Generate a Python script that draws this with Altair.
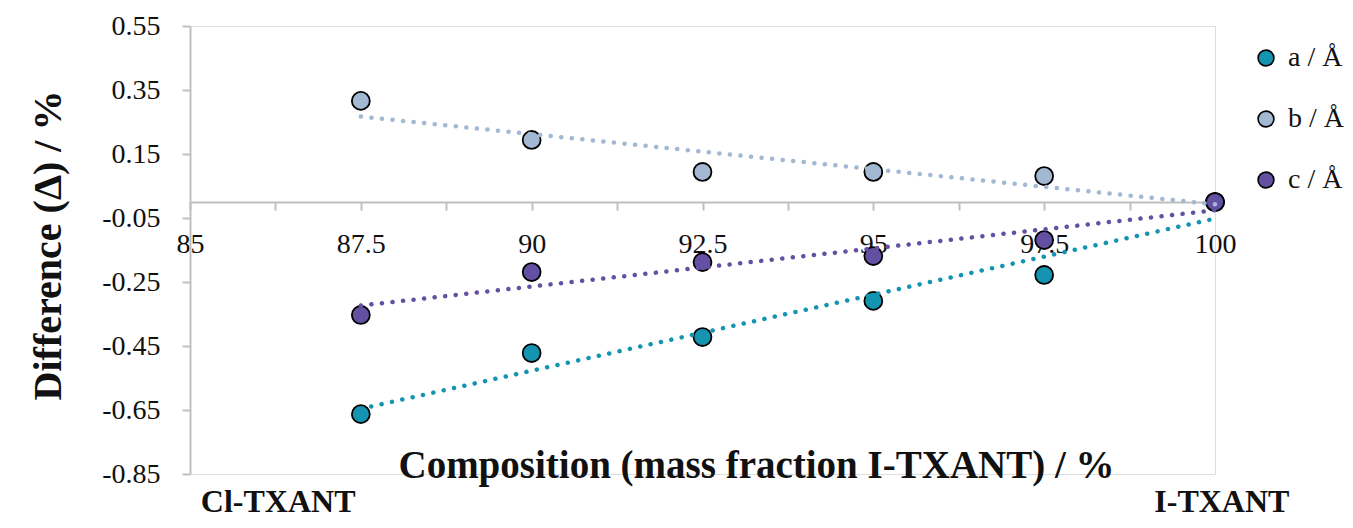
import altair as alt
import pandas as pd

# ---- data ----
composition = [87.5, 90, 92.5, 95, 97.5, 100]
a_vals = [-0.663, -0.472, -0.422, -0.309, -0.228, 0.0]
b_vals = [0.316, 0.194, 0.094, 0.094, 0.081, 0.0]
c_vals = [-0.353, -0.219, -0.188, -0.169, -0.119, 0.0]
series_names = ["a / Å", "b / Å", "c / Å"]
series_colors = ["#1494B0", "#A2B8D3", "#6450A2"]

annot_labels = ["Cl-TXANT", "I-TXANT"]
annot_x = [86.29, 100.1]

x_ticks = [85 + 1.25 * i for i in range(13)]
y_ticks = [round(-0.85 + 0.1 * i, 2) for i in range(15)]

rows = []
for name, vals in zip(series_names, [a_vals, b_vals, c_vals]):
    for xv, yv in zip(composition, vals):
        rows.append({"series": name, "comp": xv, "diff": yv})
df = pd.DataFrame(rows)
annot = pd.DataFrame({"label": annot_labels, "x": annot_x})

FONT = "Liberation Serif"
AX = "#BFBFBF"

xscale = alt.Scale(domain=[85, 100], nice=False, zero=False)
yscale = alt.Scale(domain=[-0.85, 0.55], nice=False, zero=False)
cscale = alt.Scale(domain=series_names, range=series_colors)

x_axis = alt.Axis(
    title="Composition (mass fraction I-TXANT) / %",
    offset=-272,
    values=x_ticks,
    labelExpr="datum.value % 2.5 == 0 ? '' + datum.value : ''",
    grid=False,
    domainColor=AX, domainWidth=2,
    tickColor=AX, tickWidth=2, tickSize=8,
    labelFont=FONT, labelFontSize=28, labelColor="#111",
    labelPadding=20, labelFlush=False, labelOverlap=False,
    titleFont=FONT, titleFontSize=39, titleFontWeight="bold", titleColor="#111",
    titleX=566, titleY=275, titleBaseline="alphabetic", titleAlign="center",
)
y_axis = alt.Axis(
    title="Difference (Δ) / %",
    values=y_ticks,
    labelExpr="round((datum.value + 0.85) * 10) % 2 == 0 ? replace(format(datum.value, '.2f'), '\u2212', '-') : ''",
    grid=False,
    domainColor=AX, domainWidth=2,
    tickColor=AX, tickWidth=2, tickSize=8,
    labelFont=FONT, labelFontSize=28, labelColor="#111",
    labelPadding=22, labelFlush=False, labelOverlap=False,
    titleFont=FONT, titleFontSize=40, titleFontWeight="bold", titleColor="#111",
    titleX=-142, titleY=219, titleBaseline="middle", titleAlign="center", titleAngle=-90,
)

base = alt.Chart(df)

points = base.mark_point(filled=True, size=320, stroke="black", strokeWidth=1.8, opacity=1).encode(
    x=alt.X("comp:Q", scale=xscale, axis=x_axis),
    y=alt.Y("diff:Q", scale=yscale, axis=y_axis),
    color=alt.Color(
        "series:N", scale=cscale,
        legend=alt.Legend(
            title=None, orient="none", legendX=1062, legendY=18,
            symbolType="circle", symbolSize=250, symbolStrokeColor="black",
            symbolStrokeWidth=1.6, symbolOpacity=1,
            labelFont=FONT, labelFontSize=28, labelColor="#111",
            labelOffset=8, rowPadding=33, padding=0, labelLimit=200,
        ),
    ),
    stroke=alt.value("black"),
)

trend = base.transform_regression(
    "comp", "diff", groupby=["series"]
).mark_line(strokeWidth=4.5, strokeDash=[0.1, 10.5], strokeCap="round").encode(
    x=alt.X("comp:Q", scale=xscale),
    y=alt.Y("diff:Q", scale=yscale),
    color=alt.Color("series:N", scale=cscale, legend=None),
)

labels = alt.Chart(annot).mark_text(
    font=FONT, fontSize=32, fontWeight="bold", color="#111",
    align="center", baseline="alphabetic",
).encode(
    x=alt.X("x:Q", scale=xscale),
    y=alt.value(486),
    text="label:N",
)

chart = alt.layer(points, trend, labels).resolve_legend(color="independent").properties(
    width=1025, height=448,
    autosize=alt.AutoSizeParams(type="none"),
    padding={"left": 182, "top": 18, "right": 130, "bottom": 46},
).configure_view(stroke=None).configure(background="white")

chart.save("out.html", embed_options={"renderer": "svg", "actions": False})
